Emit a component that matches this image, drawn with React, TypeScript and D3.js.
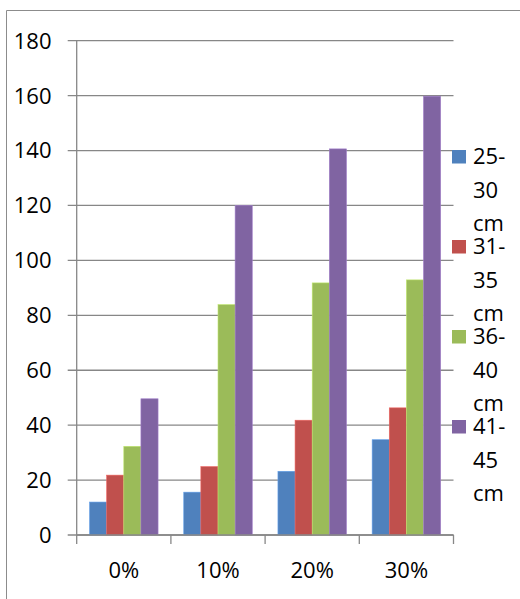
import React from "react";
import * as d3 from "d3";

// Category labels on the x axis
const categories = ["0%", "10%", "20%", "30%"];

// One series per length class
const seriesNames = ["25-30 cm", "31-35 cm", "36-40 cm", "41-45 cm"];
const legendLines = [
  ["25-", "30", "cm"],
  ["31-", "35", "cm"],
  ["36-", "40", "cm"],
  ["41-", "45", "cm"],
];
const values25to30 = [12, 15.6, 23.2, 34.7];
const values31to35 = [21.8, 24.9, 41.8, 46.3];
const values36to40 = [32.3, 83.9, 91.8, 92.9];
const values41to45 = [49.6, 120, 140.6, 159.8];
const seriesValues = [values25to30, values31to35, values36to40, values41to45];
const seriesColors = ["#4F81BD", "#C0504D", "#9BBB59", "#8064A2"];
const yTicks = [0, 20, 40, 60, 80, 100, 120, 140, 160, 180];

const W = 520;
const H = 599;
const FONT = "'Open Sans', 'Liberation Sans', sans-serif";

export default function App() {
  const plotLeft = 76.7;
  const plotRight = 453.5;
  const plotTop = 40.7;
  const plotBottom = 535;

  const y = d3.scaleLinear().domain([0, 180]).range([plotBottom, plotTop]);
  const x0 = d3.scaleBand<string>().domain(categories).range([plotLeft, plotRight]).padding(0);
  const x1 = d3
    .scaleBand<string>()
    .domain(seriesNames)
    .range([0, x0.bandwidth()])
    .paddingInner(0)
    .paddingOuter(0.75);

  const gridColor = "#878787";

  return (
    <svg
      width={W}
      height={H}
      style={{ position: "absolute", left: 0, top: 0, background: "#fff" }}
      fontFamily={FONT}
    >
      {/* chart frame */}
      <line x1={6.5} y1={10.5} x2={W} y2={10.5} stroke="#8c8c8c" strokeWidth={1} />
      <line x1={6.5} y1={10.5} x2={6.5} y2={H} stroke="#8c8c8c" strokeWidth={1} />

      {/* gridlines, y ticks and labels */}
      {yTicks.map((t) => (
        <g key={t}>
          <line
            x1={67.7}
            x2={plotRight}
            y1={y(t)}
            y2={y(t)}
            stroke={gridColor}
            strokeWidth={1.3}
          />
          <text
            x={51.5}
            y={y(t)}
            dy="0.36em"
            textAnchor="end"
            fontSize={22}
            fill="#000"
          >
            {t}
          </text>
        </g>
      ))}

      {/* bars */}
      {categories.map((c, ci) => (
        <g key={c} transform={`translate(${x0(c)},0)`}>
          {seriesNames.map((s, si) => {
            const v = seriesValues[si][ci];
            return (
              <rect
                key={s}
                x={x1(s)}
                y={y(v)}
                width={x1.bandwidth()}
                height={plotBottom - y(v)}
                fill={seriesColors[si]}
                stroke={d3.color(seriesColors[si])!.brighter(0.6).formatHex()}
                strokeWidth={0.6}
              />
            );
          })}
        </g>
      ))}

      {/* y axis */}
      <line x1={plotLeft} x2={plotLeft} y1={plotTop} y2={plotBottom} stroke={gridColor} strokeWidth={1.3} />
      {/* x axis */}
      <line x1={plotLeft} x2={plotRight} y1={plotBottom} y2={plotBottom} stroke={gridColor} strokeWidth={1.3} />
      {[...categories.map((c) => x0(c)!), plotRight].map((xv, i) => (
        <line key={i} x1={xv} x2={xv} y1={plotBottom} y2={plotBottom + 9} stroke={gridColor} strokeWidth={1.3} />
      ))}
      {categories.map((c) => (
        <text
          key={c}
          x={x0(c)! + x0.bandwidth() / 2}
          y={578}
          textAnchor="middle"
          fontSize={22}
          fill="#000"
        >
          {c}
        </text>
      ))}

      {/* legend */}
      {seriesNames.map((s, si) => {
        const base = 164 + si * 90;
        return (
          <g key={s}>
            <rect x={452} y={base - 14} width={14} height={13.5} fill={seriesColors[si]} />
            {legendLines[si].map((ln, li) => (
              <text key={li} x={473} y={base + li * 33.5} fontSize={22} fill="#000">
                {ln}
              </text>
            ))}
          </g>
        );
      })}
    </svg>
  );
}
